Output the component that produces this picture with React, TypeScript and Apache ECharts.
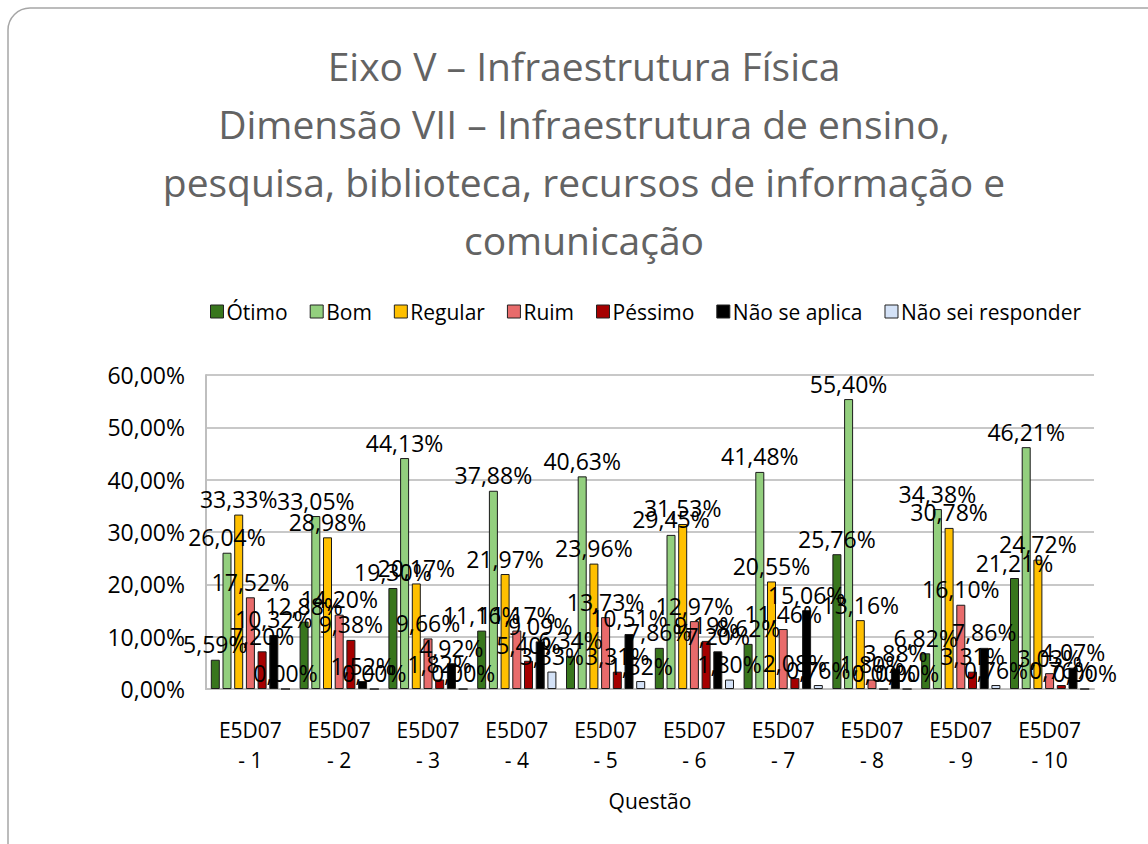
import React, { useEffect, useRef } from "react";
import * as echarts from "echarts";

const categories = [
  "E5D07\n- 1", "E5D07\n- 2", "E5D07\n- 3", "E5D07\n- 4", "E5D07\n- 5",
  "E5D07\n- 6", "E5D07\n- 7", "E5D07\n- 8", "E5D07\n- 9", "E5D07\n- 10",
];
const seriesNames = ["Ótimo", "Bom", "Regular", "Ruim", "Péssimo", "Não se aplica", "Não sei responder"];
const otimo = [5.59, 12.88, 19.3, 11.16, 6.34, 7.86, 8.62, 25.76, 6.82, 21.21];
const bom = [26.04, 33.05, 44.13, 37.88, 40.63, 29.45, 41.48, 55.4, 34.38, 46.21];
const regular = [33.33, 28.98, 20.17, 21.97, 23.96, 31.53, 20.55, 13.16, 30.78, 24.72];
const ruim = [17.52, 14.2, 9.66, 11.17, 13.73, 12.97, 11.46, 1.8, 16.1, 3.03];
const pessimo = [7.2, 9.38, 1.82, 5.4, 3.31, 9.19, 2.08, 0.0, 3.31, 0.76];
const naoSeAplica = [10.32, 1.52, 4.92, 9.09, 10.51, 7.2, 15.06, 3.88, 7.86, 4.07];
const naoSei = [0.0, 0.0, 0.0, 3.33, 1.52, 1.8, 0.76, 0.0, 0.76, 0.0];
const yTicks = [0, 10, 20, 30, 40, 50, 60];
const titleLines = [
  "Eixo V – Infraestrutura Física",
  "Dimensão VII – Infraestrutura de ensino,",
  "pesquisa, biblioteca, recursos de informação e",
  "comunicação",
];
const colors = ["#38761d", "#93cf7e", "#ffc000", "#e86b6b", "#a50000", "#000000", "#d4e2f7"];

const FONT = "'Open Sans', 'Noto Sans', sans-serif";

const fmt = (v: number) => v.toFixed(2).replace(".", ",") + "%";

export default function App() {
  const ref = useRef<HTMLDivElement>(null);
  useEffect(() => {
    if (!ref.current) return;
    const chart = echarts.init(ref.current, undefined, { renderer: "svg" });
    const all = [otimo, bom, regular, ruim, pessimo, naoSeAplica, naoSei];
    chart.setOption({
      animation: false,
      backgroundColor: "#ffffff",
      textStyle: { fontFamily: FONT },
      legend: {
        data: seriesNames,
        top: 296,
        left: 205,
        itemWidth: 13,
        itemHeight: 13,
        itemGap: 22,
        icon: "rect",
        textStyle: { fontFamily: FONT, fontSize: 21, color: "#000", padding: [0, 0, 0, -2] },
        itemStyle: { borderColor: "#222", borderWidth: 1 },
      },
      grid: { left: 206, right: 54, top: 375, bottom: 155, containLabel: false },
      xAxis: {
        type: "category",
        data: categories,
        name: "Questão",
        nameLocation: "middle",
        nameGap: 101,
        nameTextStyle: { fontFamily: FONT, fontSize: 21, color: "#000" },
        axisLine: { lineStyle: { color: "#bfbfbf", width: 2 } },
        axisTick: { show: false },
        axisLabel: { fontFamily: FONT, fontSize: 21, color: "#000", lineHeight: 30, margin: 26 },
      },
      yAxis: {
        type: "value",
        min: 0,
        max: 60,
        interval: 10,
        axisLine: { show: true, lineStyle: { color: "#bfbfbf", width: 2 } },
        splitLine: { lineStyle: { color: "#c8c8c8", width: 2 } },
        axisLabel: {
          fontFamily: FONT,
          fontSize: 23,
          color: "#000",
          margin: 21,
          formatter: (v: number) => (yTicks.includes(v) ? fmt(v) : ""),
        },
      },
      graphic: [
        {
          type: "rect",
          shape: { x: 8, y: 8, width: 1180, height: 880, r: 22 },
          style: { fill: "none", stroke: "#a6a6a6", lineWidth: 1.5 },
          silent: true,
        },
        ...titleLines.map((t, i) => ({
          type: "text",
          x: 584,
          y: 65 + i * 58,
          style: {
            text: t,
            fontFamily: FONT,
            fontSize: 39,
            fill: "#636363",
            textAlign: "center",
            textVerticalAlign: "middle",
          },
          silent: true,
        })),
      ],
      series: all.map((d, i) => ({
        name: seriesNames[i],
        type: "bar",
        data: d,
        barWidth: 9,
        barGap: "30%",
        itemStyle: { color: colors[i], borderColor: "#1a1a1a", borderWidth: 1 },
        label: {
          show: true,
          position: "top",
          distance: 4,
          fontFamily: FONT,
          fontSize: 23,
          color: "#000",
          formatter: (p: any) => fmt(p.value),
        },
      })),
    });
    return () => chart.dispose();
  }, []);
  return (
    <div
      ref={ref}
      style={{ position: "fixed", left: 0, top: 0, width: 1148, height: 844 }}
    />
  );
}
